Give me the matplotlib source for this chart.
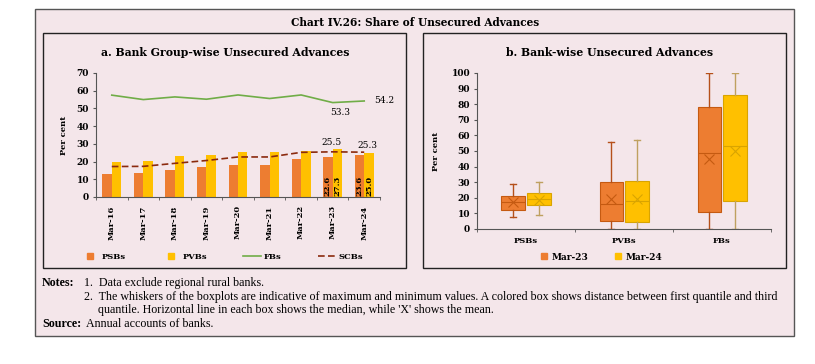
import matplotlib
matplotlib.use("Agg")
import matplotlib.pyplot as plt
from matplotlib.patches import Rectangle
from matplotlib.lines import Line2D
import numpy as np

# -----------------------------
# DATA
# -----------------------------
years = ["Mar-16", "Mar-17", "Mar-18", "Mar-19", "Mar-20",
         "Mar-21", "Mar-22", "Mar-23", "Mar-24"]
psb = [13.2, 13.5, 15.0, 17.0, 18.0, 18.2, 21.6, 22.6, 23.6]
pvb = [19.5, 20.2, 23.2, 23.6, 25.2, 25.2, 26.2, 27.3, 25.0]
fb = [57.5, 55.0, 56.5, 55.2, 57.6, 55.6, 57.6, 53.3, 54.2]
scb = [17.2, 17.3, 19.0, 20.6, 22.6, 22.6, 25.2, 25.5, 25.3]

groups = ["PSBs", "PVBs", "FBs"]
# box stats: min, q1, median, q3, max, mean
box_mar23 = {
    "PSBs": [8.0, 12.0, 17.0, 21.0, 29.0, 17.0],
    "PVBs": [0.0, 5.0, 16.0, 30.0, 56.0, 19.5],
    "FBs": [0.0, 11.0, 49.0, 78.0, 100.0, 45.0],
}
box_mar24 = {
    "PSBs": [9.0, 15.5, 19.0, 23.0, 30.0, 18.5],
    "PVBs": [0.0, 4.5, 18.0, 30.5, 57.0, 19.0],
    "FBs": [0.0, 18.0, 53.0, 86.0, 100.0, 50.0],
}

BG = "#F4E6EA"
ORANGE = "#ED7D31"
YELLOW = "#FFC000"
GREEN = "#70AD47"
SCB_COL = "#8B2A0E"
SERIF = "DejaVu Serif"

W, H = 815, 364
fig = plt.figure(figsize=(W / 100, H / 100), dpi=100)
fig.patch.set_facecolor("white")


def px_axes(x0, y0, x1, y1):
    # pixel box (top-left origin) -> figure axes
    return fig.add_axes([x0 / W, 1 - y1 / H, (x1 - x0) / W, (y1 - y0) / H])


def px_rect(x0, y0, x1, y1, **kw):
    fig.patches.append(Rectangle((x0 / W, 1 - y1 / H), (x1 - x0) / W, (y1 - y0) / H,
                                 transform=fig.transFigure, **kw))


def px_text(x, y, s, **kw):
    fig.text(x / W, 1 - y / H, s, **kw)


# frames
px_rect(35, 9, 794, 336, facecolor=BG, edgecolor="#555555", lw=1.0, zorder=-2)
px_rect(43, 33, 406, 268, facecolor="none", edgecolor="#222222", lw=1.0, zorder=-1)
px_rect(423, 33, 786, 268, facecolor="none", edgecolor="#222222", lw=1.0, zorder=-1)

px_text(415, 22, "Chart IV.26: Share of Unsecured Advances", ha="center", va="center",
        family=SERIF, fontweight="bold", fontsize=7.6)
px_text(225, 52, "a. Bank Group-wise Unsecured Advances", ha="center", va="center",
        family=SERIF, fontweight="bold", fontsize=7.8)
px_text(610, 52, "b. Bank-wise Unsecured Advances", ha="center", va="center",
        family=SERIF, fontweight="bold", fontsize=7.8)

# -----------------------------
# PANEL A
# -----------------------------
ax = px_axes(96, 73, 380, 197)
ax.set_facecolor("none")
x = np.arange(len(years))
bw = 0.3
ax.bar(x - bw / 2, psb, bw, color=ORANGE, label="PSBs", zorder=2)
ax.bar(x + bw / 2, pvb, bw, color=YELLOW, label="PVBs", zorder=2)
ax.plot(x, fb, color=GREEN, lw=1.2, label="FBs", zorder=3)
ax.plot(x, scb, color=SCB_COL, lw=1.2, ls=(0, (4, 2)), label="SCBs", zorder=3)

for i in [7, 8]:
    ax.text(x[i] - bw / 2, 0.8, f"{psb[i]:.1f}", rotation=90, ha="center", va="bottom",
            family=SERIF, fontweight="bold", fontsize=6, zorder=4)
    ax.text(x[i] + bw / 2, 0.8, f"{pvb[i]:.1f}", rotation=90, ha="center", va="bottom",
            family=SERIF, fontweight="bold", fontsize=6, zorder=4)
ax.text(x[7] - 0.05, scb[7] + 3, f"{scb[7]:.1f}", ha="center", va="bottom",
        family=SERIF, fontsize=6.5)
ax.text(x[8] + 0.1, scb[8] + 1.5, f"{scb[8]:.1f}", ha="center", va="bottom",
        family=SERIF, fontsize=6.5)
ax.text(x[7] + 0.25, fb[7] - 3, f"{fb[7]:.1f}", ha="center", va="top",
        family=SERIF, fontsize=6.5)
ax.text(x[8] + 0.3, fb[8], f"{fb[8]:.1f}", ha="left", va="center",
        family=SERIF, fontsize=6.5)

ax.set_xlim(-0.5, len(years) - 0.5)
ax.set_ylim(0, 70)
ax.set_yticks(range(0, 71, 10))
ax.set_xticks(x)
ax.set_xticklabels(years, rotation=90, family=SERIF, fontweight="bold", fontsize=6)
ax.set_xticks(np.arange(-0.5, len(years), 1), minor=True)
ax.tick_params(axis="x", which="major", length=0, pad=6)
ax.tick_params(axis="x", which="minor", length=2, color="#555555")
ax.tick_params(axis="y", length=2, color="#555555", pad=3)
for lab in ax.get_yticklabels():
    lab.set_family(SERIF)
    lab.set_fontweight("bold")
    lab.set_fontsize(6.5)
ax.set_ylabel("Per cent", family=SERIF, fontweight="bold", fontsize=6, labelpad=6)
for s in ["top", "right"]:
    ax.spines[s].set_visible(False)
for s in ["left", "bottom"]:
    ax.spines[s].set_color("#555555")
    ax.spines[s].set_linewidth(0.8)

handles = [
    Line2D([], [], marker="s", ls="none", color=ORANGE, markersize=5),
    Line2D([], [], marker="s", ls="none", color=YELLOW, markersize=5),
    Line2D([], [], color=GREEN, lw=1.2),
    Line2D([], [], color=SCB_COL, lw=1.2, ls=(0, (4, 2))),
]
fig.legend(handles, ["PSBs", "PVBs", "FBs", "SCBs"], loc="center",
           bbox_to_anchor=(222 / W, 1 - 257 / H), ncol=4, frameon=False,
           prop={"family": SERIF, "weight": "bold", "size": 6},
           columnspacing=4.3, handlelength=2.2, handletextpad=0.3)

# -----------------------------
# PANEL B
# -----------------------------
bx = px_axes(477, 73, 771, 229)
bx.set_facecolor("none")
gpos = np.arange(1, len(groups) + 1)
bwid = 0.24
off = 0.13


def make_stats(d):
    out = []
    for g in groups:
        mn, q1, med, q3, mx, mean = d[g]
        out.append({"whislo": mn, "q1": q1, "med": med, "q3": q3, "whishi": mx,
                    "mean": mean, "fliers": []})
    return out


styles = [
    (box_mar23, -off, ORANGE, "#C55A11", "#B5501A"),
    (box_mar24, off, YELLOW, "#D9A400", "#BFA060"),
]
for data, o, face, edge, whisk in styles:
    bx.bxp(make_stats(data), positions=gpos + o, widths=bwid, patch_artist=True,
           showmeans=True, showfliers=False,
           boxprops=dict(facecolor=face, edgecolor=edge, lw=0.8),
           medianprops=dict(color=edge, lw=0.8),
           whiskerprops=dict(color=whisk, lw=1.0),
           capprops=dict(color=whisk, lw=1.0),
           meanprops=dict(marker="x", markeredgecolor=edge, markersize=7, mew=0.8),
           capwidths=0.06, manage_ticks=False, zorder=2)

bx.set_xlim(0.5, len(groups) + 0.5)
bx.set_ylim(0, 100)
bx.set_yticks(range(0, 101, 10))
bx.set_xticks(gpos)
bx.set_xticklabels(groups, family=SERIF, fontweight="bold", fontsize=6)
bx.set_xticks(np.arange(0.5, len(groups) + 1, 1), minor=True)
bx.tick_params(axis="x", which="major", length=0, pad=6)
bx.tick_params(axis="x", which="minor", length=2, color="#555555")
bx.tick_params(axis="y", length=2, color="#555555", pad=3)
for lab in bx.get_yticklabels():
    lab.set_family(SERIF)
    lab.set_fontweight("bold")
    lab.set_fontsize(6.5)
bx.set_ylabel("Per cent", family=SERIF, fontweight="bold", fontsize=6, labelpad=8)
for s in ["top", "right"]:
    bx.spines[s].set_visible(False)
for s in ["left", "bottom"]:
    bx.spines[s].set_color("#555555")
    bx.spines[s].set_linewidth(0.8)

handles_b = [
    Line2D([], [], marker="s", ls="none", color=ORANGE, markersize=5),
    Line2D([], [], marker="s", ls="none", color=YELLOW, markersize=5),
]
fig.legend(handles_b, ["Mar-23", "Mar-24"], loc="center",
           bbox_to_anchor=(601 / W, 1 - 257 / H), ncol=2, frameon=False,
           prop={"family": SERIF, "weight": "bold", "size": 6.5},
           columnspacing=2.8, handlelength=1.0, handletextpad=0.3)

# -----------------------------
# NOTES
# -----------------------------
NF = "Liberation Serif"
FS = 8.65
px_text(42, 283, "Notes:", family=NF, fontweight="bold", fontsize=FS, va="center")
px_text(84, 283, "1.  Data exclude regional rural banks.", family=NF, fontsize=FS, va="center")
px_text(84, 297, "2.  The whiskers of the boxplots are indicative of maximum and minimum values. "
        "A colored box shows distance between first quantile and third",
        family=NF, fontsize=FS, va="center")
px_text(98, 310, "quantile. Horizontal line in each box shows the median, while 'X' shows the mean.",
        family=NF, fontsize=FS, va="center")
px_text(42, 324, "Source:", family=NF, fontweight="bold", fontsize=FS, va="center")
px_text(86, 324, "Annual accounts of banks.", family=NF, fontsize=FS, va="center")

fig.savefig("out.png", dpi=100, facecolor="white")
